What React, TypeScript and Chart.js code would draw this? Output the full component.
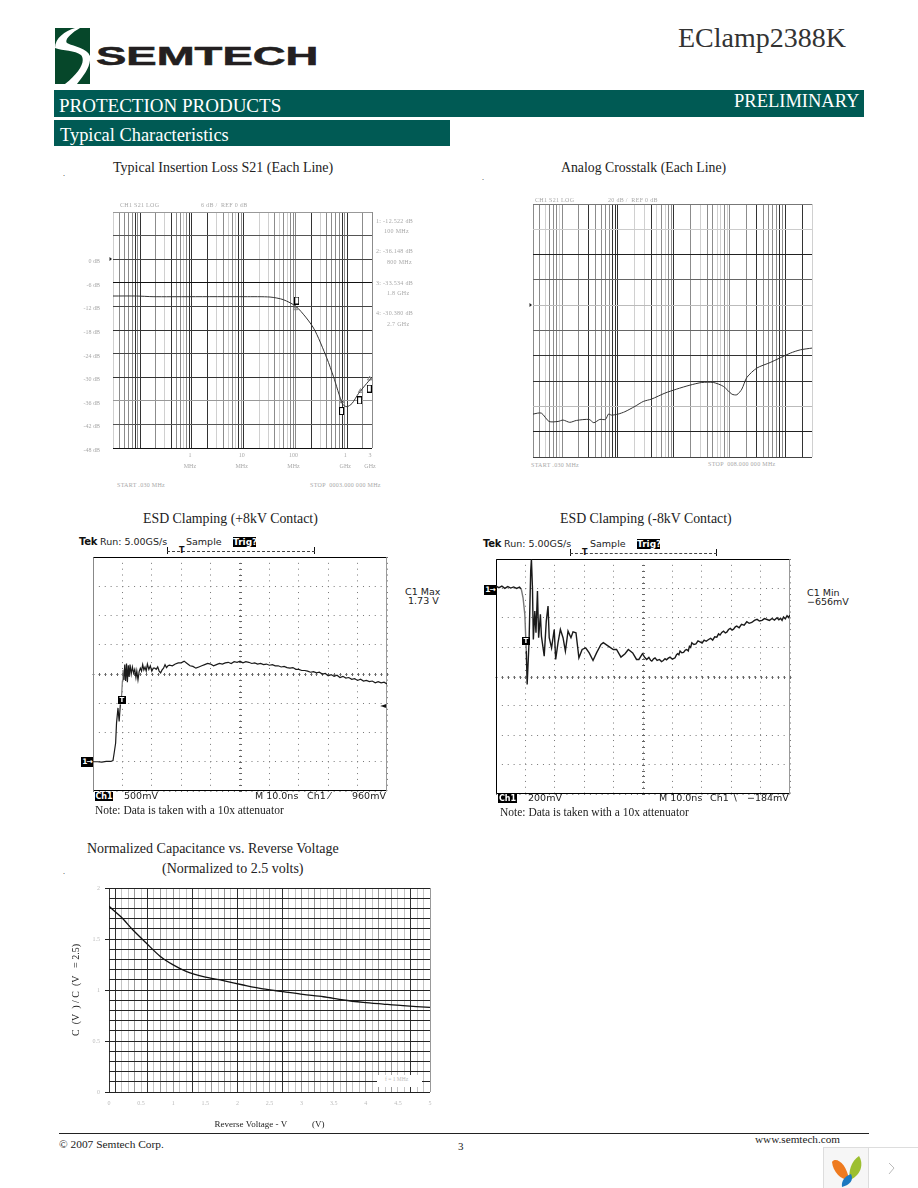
import React, { useEffect, useRef } from "react";
import { Chart, registerables } from "chart.js";

Chart.register(...registerables);

// ---------- Shared log grid (MHz) ----------
const logGrid = [
  0.03, 0.04, 0.05, 0.06, 0.07, 0.08, 0.09, 0.1, 0.2, 0.3, 0.4, 0.5, 0.6, 0.7, 0.8, 0.9,
  1, 2, 3, 4, 5, 6, 7, 8, 9, 10, 20, 30, 40, 50, 60, 70, 80, 90,
  100, 200, 300, 400, 500, 600, 700, 800, 900, 1000, 2000, 3000,
];

// ---------- Insertion loss ----------
const s21Freq = [0.03, 0.085, 0.178, 0.914, 10.6, 32.3, 58.5, 106, 223, 404, 543, 811, 984, 1230, 1656, 2230, 3000];
const s21Db = [-9.36, -9.36, -9.53, -9.53, -9.53, -9.62, -10.3, -12.17, -17.5, -25.2, -29.9, -36.85, -37.5, -36.7, -34.1, -32, -30];
const s21MarkerFreq = [106, 774, 1726, 2660];
const s21MarkerDb = [-10.5, -38.6, -35.9, -32.9];
const s21TriFreq = [100, 800, 1800, 2700];
const s21TriDb = [-12.52, -36.15, -33.53, -30.38];
const s21YLabels: Record<string, string> = {
  "0": "0 dB", "-6": "-6 dB", "-12": "-12 dB", "-18": "-18 dB", "-24": "-24 dB",
  "-30": "-30 dB", "-36": "-36 dB", "-42": "-42 dB", "-48": "-48 dB",
};
const s21XLabels: Record<string, string[]> = {
  "1": ["1", "MHz"], "10": ["10", "MHz"], "100": ["100", "MHz"], "1000": ["1", "GHz"], "3000": ["3", "GHz"],
};
const s21DarkX = [0.08, 0.1, 0.4, 0.9, 1, 2, 8, 10, 200, 800, 1000];
const s21LightX = [0.03, 0.3, 0.7, 3, 5, 7, 20, 30, 50, 70, 300];
const s21YColors: Record<string, string> = {
  "12": "#999", "6": "#555", "0": "#444", "-6": "#111", "-12": "#444", "-18": "#333",
  "-24": "#444", "-30": "#333", "-36": "#999", "-42": "#555", "-48": "#111",
};

// ---------- Crosstalk ----------
const xtFreq = [0.03, 0.0423, 0.0581, 0.0843, 0.1038, 0.1368, 0.18, 0.304, 0.369, 0.473, 0.597, 0.676, 0.766, 1.01, 1.33, 2.01, 2.84, 4.0, 6.95, 11.3, 19.5, 31.7, 51.4, 77.6, 110, 135, 166, 204, 308, 535, 1225, 1849, 3000];
const xtDb = [-86.05, -85.3, -91.9, -91.9, -90.8, -92.6, -91.1, -90.3, -92.9, -90.3, -90.3, -86.05, -86.9, -86.05, -84.2, -80, -76.1, -74.2, -69.5, -66.3, -63.2, -61.1, -61.1, -64.2, -70.3, -70.8, -66.3, -57.1, -49.7, -45.3, -37.9, -35.3, -33.9];
const xtDarkX = [0.3, 0.8, 0.9, 1, 4, 10, 300, 800, 1000, 2000];
const xtLightX = [0.05, 0.09, 2, 3, 5, 7, 30, 60, 70, 90, 3000];
const xtYColors: Record<string, string> = {
  "80": "#777", "60": "#ccc", "40": "#222", "20": "#666", "0": "#bbb", "-20": "#666",
  "-40": "#333", "-60": "#333", "-80": "#bbb", "-100": "#222", "-120": "#444",
};

// ---------- ESD +8kV ----------
const posT = [0, 1.5, 3, 4.5, 6, 6.8, 7.2, 7.7, 8, 8.5, 8.9, 9.3, 9.7, 10, 10.2, 10.5, 10.8, 11.1, 11.4, 11.7, 12, 12.3, 12.6, 13, 13.4, 13.8, 14.2, 14.6, 14.9, 15.3, 15.7, 16.1, 16.5, 16.9, 17.3, 17.7, 18.1, 18.5, 19, 19.5, 20, 20.5, 21, 21.5, 22, 22.5, 23, 23.5, 24, 24.5, 25, 25.5, 26, 27, 28, 29, 30, 31, 32, 33, 34, 35, 36, 37, 38, 39, 40, 41, 42, 43, 44, 45, 46, 47, 48, 49, 50, 51, 52, 53, 54, 55, 56, 57, 58, 59, 60, 61, 62, 63, 64, 65, 66, 67, 68, 69, 70, 71, 72, 73, 74, 75, 76, 77, 78, 79, 80, 81, 82, 83, 84, 85, 86, 87, 88, 89, 90, 91, 92, 93, 94, 95, 96, 97, 98, 99, 100];
const posV = [0, 0, -0.005, 0.005, 0.005, 0.02, 0.15, 0.32, 0.66, 0.92, 0.69, 0.98, 1.1, 1.38, 1.57, 1.4, 1.66, 1.38, 1.68, 1.36, 1.65, 1.45, 1.66, 1.5, 1.62, 1.52, 1.58, 1.44, 1.55, 1.4, 1.54, 1.6, 1.55, 1.66, 1.57, 1.62, 1.55, 1.67, 1.58, 1.64, 1.55, 1.6, 1.6, 1.58, 1.62, 1.55, 1.52, 1.57, 1.6, 1.66, 1.61, 1.64, 1.65, 1.64, 1.67, 1.69, 1.69, 1.72, 1.68, 1.64, 1.63, 1.6, 1.62, 1.64, 1.66, 1.68, 1.67, 1.64, 1.66, 1.68, 1.67, 1.69, 1.7, 1.68, 1.71, 1.7, 1.72, 1.69, 1.71, 1.7, 1.68, 1.69, 1.67, 1.68, 1.66, 1.67, 1.65, 1.66, 1.64, 1.64, 1.62, 1.63, 1.61, 1.6, 1.61, 1.58, 1.58, 1.56, 1.56, 1.55, 1.53, 1.54, 1.52, 1.53, 1.5, 1.51, 1.47, 1.49, 1.46, 1.48, 1.44, 1.46, 1.43, 1.44, 1.41, 1.42, 1.39, 1.41, 1.38, 1.39, 1.37, 1.38, 1.35, 1.37, 1.35, 1.36, 1.33];

// ---------- ESD -8kV ----------
const negT = [0, 1, 2, 3, 4, 5, 6, 7, 8, 8.6, 9.2, 9.8, 10.3, 10.6, 10.9, 11.25, 11.8, 12.05, 12.4, 12.7, 13.2, 13.6, 14.1, 14.5, 15.1, 15.45, 16.4, 17.1, 17.7, 18.1, 18.9, 19.8, 20.3, 21.1, 21.9, 22.8, 23.6, 24.5, 25.5, 26.2, 27.2, 28.2, 29.3, 30.5, 31.7, 33, 34.2, 35.7, 36.5, 38.2, 39.9, 41, 42.5, 43.9, 45, 46.5, 47.8, 48.6, 49.8, 50.7];
const negMv = [15, 5, 15, 0, 12, 2, 10, 0, 8, -5, -64, -177, -427, -655, -518, -359, 118, 198, 5, -348, -155, -302, -18, -336, -177, -325, -461, -223, -120, -336, -405, -280, -484, -370, -280, -336, -427, -291, -336, -296, -302, -473, -416, -405, -439, -491, -439, -382, -370, -393, -416, -416, -468, -445, -416, -439, -484, -484, -445, -473];
const negTail: [number, number][] = [
  [51.25, -484], [52, -470], [52.6, -490], [53, -495], [53.6, -480], [54.1, -473], [54.8, -490], [55.6, -484],
  [56.3, -498], [56.9, -491], [57.5, -478], [58, -486], [58.6, -475], [59.2, -468], [60, -482], [60.9, -473],
  [61.4, -452], [61.8, -445], [62.2, -452], [62.6, -427], [63.2, -438], [63.8, -436], [64.4, -420], [64.9, -416],
  [65.4, -426], [65.8, -395], [66.2, -402], [66.6, -370], [67.3, -382], [68, -378], [68.7, -358], [69.4, -364],
  [70.1, -372], [70.8, -352], [71.5, -360], [72.3, -348], [73, -340], [73.7, -352], [74.4, -330], [75.1, -332],
  [75.7, -310], [76.2, -318], [76.8, -300], [77.4, -291], [78, -303], [78.5, -298], [79.1, -280], [79.7, -273],
  [80.3, -284], [80.8, -278], [81.4, -262], [81.9, -257], [82.7, -268], [83.5, -245], [84.4, -250], [85.3, -227],
  [86.1, -238], [87, -232], [87.9, -218], [88.8, -211], [89.6, -222], [90.5, -218], [91.3, -206], [92.2, -212],
  [93, -218], [93.9, -205], [94.7, -216], [95.6, -200], [96.2, -214], [96.8, -204], [97.3, -218], [97.8, -195],
  [98.4, -208], [99, -186], [99.5, -198], [100, -182],
];

// ---------- Capacitance ----------
const capV = [0, 0.19, 0.37, 0.58, 0.79, 1, 1.21, 1.47, 1.78, 2.09, 2.4, 2.71, 3.02, 3.34, 3.65, 3.96, 4.27, 4.58, 5];
const capRatio = [1.82, 1.715, 1.59, 1.46, 1.334, 1.246, 1.18, 1.131, 1.092, 1.049, 1.01, 0.984, 0.957, 0.934, 0.902, 0.879, 0.862, 0.846, 0.83];
const capDarkX = [0, 0.1, 0.6, 1.3, 2, 2.7, 4.7];
const capMidX = [0.4, 0.8, 1, 1.6, 1.8, 2.3, 2.5, 3, 3.2, 3.5, 3.7, 4, 4.2, 4.4, 5];

const SERIF = '"Liberation Serif", serif';
const SANS = '"DejaVu Sans", sans-serif';
const FAINT = "#a8a8a8";

const pts = (xs: number[], ys: number[]) => xs.map((x, i) => ({ x, y: ys[i] }));

// fixes the plot rectangle inside the canvas
const fixY = (l: number) => (s: any) => {
  s.width = l;
  s.paddingLeft = s.paddingRight = s.paddingTop = s.paddingBottom = 0;
};
const fixX = (b: number) => (s: any) => {
  s.height = b;
  s.paddingLeft = s.paddingRight = s.paddingTop = s.paddingBottom = 0;
};

const baseOptions = (t: number, r: number) => ({
  responsive: false,
  animation: false as const,
  events: [] as string[],
  layout: { padding: { top: t, right: r, left: 0, bottom: 0 } },
  plugins: { legend: { display: false }, tooltip: { enabled: false }, title: { display: false } },
});

const refMarker = {
  id: "refMarker",
  afterDraw(chart: any) {
    const { ctx, scales, chartArea } = chart;
    const y = Math.round(scales.y.getPixelForValue(0));
    ctx.save();
    ctx.fillStyle = "#222";
    ctx.beginPath();
    ctx.moveTo(chartArea.left - 1, y);
    ctx.lineTo(chartArea.left - 3.5, y - 2);
    ctx.lineTo(chartArea.left - 3.5, y + 2);
    ctx.closePath();
    ctx.fill();
    ctx.restore();
  },
};

const boxImage = () => {
  const c = document.createElement("canvas");
  c.width = 5;
  c.height = 8;
  const g = c.getContext("2d")!;
  g.fillStyle = "#fff";
  g.fillRect(0, 0, 5, 8);
  g.strokeStyle = "#000";
  g.lineWidth = 1;
  g.strokeRect(0.5, 0.5, 4, 7);
  return c;
};

const logConfig = (
  xs: number[], ys: number[], extra: any[], yMin: number, yMax: number, yStep: number,
  dark: number[], light: number[], yColors: Record<string, string>,
  l: number, t: number, r: number, b: number, labelled: boolean,
) => ({
  type: "scatter" as const,
  data: {
    datasets: [
      { data: pts(xs, ys), showLine: true, borderColor: "#333", borderWidth: 1, pointRadius: 0, tension: 0.25 },
      ...extra,
    ],
  },
  plugins: [refMarker],
  options: {
    ...baseOptions(t, r),
    scales: {
      x: {
        type: "logarithmic" as const,
        min: 0.03,
        max: 3000,
        afterBuildTicks: (s: any) => { s.ticks = logGrid.map((value) => ({ value })); },
        afterFit: fixX(b),
        grid: {
          drawTicks: false,
          lineWidth: 1,
          color: (c: any) => {
            const v = c.tick?.value;
            return dark.includes(v) ? "#333" : light.includes(v) ? "#d0d0d0" : "#8c8c8c";
          },
        },
        border: { display: false },
        ticks: {
          display: labelled,
          autoSkip: false,
          maxRotation: 0,
          padding: 2,
          labelOffset: -2,
          color: FAINT,
          font: { family: SERIF, size: 6, lineHeight: 1.8 },
          callback: (v: any) => s21XLabels[String(v)] ?? "",
        },
      },
      y: {
        type: "linear" as const,
        min: yMin,
        max: yMax,
        afterFit: fixY(l),
        grid: { drawTicks: false, lineWidth: 1, color: (c: any) => yColors[String(c.tick?.value)] ?? "#555" },
        border: { display: false },
        ticks: {
          display: labelled,
          stepSize: yStep,
          padding: 13,
          labelOffset: 2.5,
          color: FAINT,
          font: { family: SERIF, size: 6 },
          callback: (v: any) => s21YLabels[String(v)] ?? "",
        },
      },
    },
  },
});

const s21Config = () =>
  logConfig(
    s21Freq, s21Db,
    [
      { data: pts(s21TriFreq, s21TriDb), showLine: false, pointStyle: "triangle", pointRadius: 2.5, borderColor: "#888", backgroundColor: "rgba(0,0,0,0)", borderWidth: 1 },
      { data: pts(s21MarkerFreq, s21MarkerDb), showLine: false, pointStyle: boxImage(), pointRadius: 3 },
    ],
    -48, 12, 6, s21DarkX, s21LightX, s21YColors, 53, 12, 12, 30, true,
  );

const xtConfig = () =>
  logConfig(xtFreq, xtDb, [], -120, 80, 20, xtDarkX, xtLightX, xtYColors, 8, 6, 4, 4, false);

const tekPlugin = (centerY: number, leftColor: string, rightColor: string) => ({
  id: "tekGraticule",
  beforeDatasetsDraw(chart: any) {
    const { ctx, chartArea: a, scales } = chart;
    const cx = Math.round(scales.x.getPixelForValue(50)) + 0.5;
    const cy = Math.round(scales.y.getPixelForValue(centerY)) + 0.5;
    const stepX = (a.right - a.left) / 50;
    const stepY = (a.bottom - a.top) / 40;
    ctx.save();
    ctx.strokeStyle = "#666";
    ctx.lineWidth = 1;
    ctx.beginPath();
    for (let i = 0; i <= 50; i++) {
      const x = Math.round(a.left + i * stepX) + 0.5;
      ctx.moveTo(x, cy - 1.5);
      ctx.lineTo(x, cy + 1.5);
      ctx.moveTo(x - 1, cy);
      ctx.lineTo(x + 1, cy);
    }
    for (let j = 0; j <= 40; j++) {
      const y = Math.round(a.top + j * stepY) + 0.5;
      ctx.moveTo(cx - 1.5, y);
      ctx.lineTo(cx + 1.5, y);
    }
    ctx.stroke();
    const L = Math.round(a.left) + 0.5, R = Math.round(a.right) - 0.5;
    const T = Math.round(a.top) + 0.5, B = Math.round(a.bottom) - 0.5;
    ctx.strokeStyle = "#000";
    ctx.beginPath();
    ctx.moveTo(L, T); ctx.lineTo(R, T);
    ctx.moveTo(L, B); ctx.lineTo(R, B);
    ctx.stroke();
    ctx.strokeStyle = leftColor;
    ctx.beginPath(); ctx.moveTo(L, T); ctx.lineTo(L, B); ctx.stroke();
    ctx.strokeStyle = rightColor;
    ctx.beginPath(); ctx.moveTo(R, T); ctx.lineTo(R, B); ctx.stroke();
    ctx.restore();
  },
});

const tekConfig = (
  xs: number[], ys: number[], yMin: number, yMax: number, yStep: number, centerY: number,
  width: number, greyFrom: number, greyTo: number, l: number, t: number, r: number, b: number, leftC: string, rightC: string,
) => ({
  type: "scatter" as const,
  data: {
    datasets: [
      {
        data: pts(xs, ys),
        showLine: true,
        borderColor: "#1a1a1a",
        borderWidth: width,
        pointRadius: 0,
        segment: { borderColor: (c: any) => (c.p0.parsed.x >= greyFrom && c.p0.parsed.x < greyTo ? "#777" : undefined) },
      },
    ],
  },
  plugins: [tekPlugin(centerY, leftC, rightC)],
  options: {
    ...baseOptions(t, r),
    scales: {
      x: {
        type: "linear" as const,
        min: 0,
        max: 100,
        afterFit: fixX(b),
        grid: { drawTicks: false, color: "#777" },
        border: { display: false, dash: [1, 4.84] },
        ticks: { display: false, stepSize: 10 },
      },
      y: {
        type: "linear" as const,
        min: yMin,
        max: yMax,
        afterFit: fixY(l),
        grid: { drawTicks: false, color: "#777" },
        border: { display: false, dash: [1, 4.87] },
        ticks: { display: false, stepSize: yStep },
      },
    },
  },
});

const posConfig = () => tekConfig(posT, posV, -0.5, 3.5, 0.5, 1.5, 1.2, 9.3, 10.4, 3, 2, 3, 3, "#888", "#999");
const negConfig = () =>
  tekConfig([...negT, ...negTail.map((p) => p[0])], [...negMv, ...negTail.map((p) => p[1])], -1400, 200, 200, -600, 1.4, 8.6, 10, 3, 2, 3, 3, "#000", "#999");

const near = (a: number, b: number) => Math.abs(a - b) < 1e-6;
const capConfig = () => ({
  type: "scatter" as const,
  data: {
    datasets: [
      { data: pts(capV, capRatio), showLine: true, borderColor: "#111", borderWidth: 1.3, pointRadius: 0, tension: 0.3 },
    ],
  },
  options: {
    ...baseOptions(4, 4),
    scales: {
      x: {
        type: "linear" as const,
        min: 0,
        max: 5,
        afterFit: fixX(38),
        grid: {
          drawTicks: false,
          color: (c: any) => {
            const v = c.tick?.value ?? -1;
            if (capDarkX.some((d) => near(d, v))) return "#333";
            if (capMidX.some((d) => near(d, v))) return "#999";
            return "#c4c4c4";
          },
        },
        border: { display: false },
        title: { display: true, text: "Reverse Voltage - V           (V)", color: "#222", padding: 0, font: { family: SERIF, size: 9, lineHeight: 1.2 } },
        ticks: {
          stepSize: 0.1,
          autoSkip: false,
          maxRotation: 0,
          padding: 8,
          color: "#bbb",
          font: { family: SERIF, size: 6 },
          callback: (v: any) => (near(v * 2, Math.round(v * 2)) ? String(Number(Number(v).toFixed(1))) : ""),
        },
      },
      y: {
        type: "linear" as const,
        min: 0,
        max: 2,
        afterFit: fixY(49),
        grid: {
          tickLength: 4,
          color: "#222",
          tickColor: (c: any) => {
            const v = c.tick?.value ?? -1;
            return near(v * 2, Math.round(v * 2)) ? "#222" : "rgba(0,0,0,0)";
          },
        },
        border: { display: false },
        title: { display: true, text: "C  (V  ) / C  (V   = 2.5)", color: "#222", padding: { top: 10, bottom: 0 }, font: { family: SERIF, size: 10, lineHeight: 1.2 } },
        ticks: {
          stepSize: 0.1,
          autoSkip: false,
          padding: 5,
          color: "#bbb",
          font: { family: SERIF, size: 6 },
          callback: (v: any) => (near(v * 2, Math.round(v * 2)) ? String(Number(Number(v).toFixed(1))) : ""),
        },
      },
    },
  },
});

function ChartBox({ left, top, width, height, build }: { left: number; top: number; width: number; height: number; build: () => any }) {
  const ref = useRef<HTMLCanvasElement>(null);
  useEffect(() => {
    const chart = new Chart(ref.current!, build());
    return () => chart.destroy();
  }, []);
  return <canvas ref={ref} width={width} height={height} style={{ position: "absolute", left, top, width, height, display: "block" }} />;
}

function T({ x, y, s, c = "#111", f = SERIF, w, ls, children }: any) {
  return (
    <div style={{ position: "absolute", left: x, top: y, transform: "translateY(-50%)", fontSize: s, color: c, fontFamily: f, fontWeight: w ?? "normal", letterSpacing: ls, whiteSpace: "pre", lineHeight: 1 }}>
      {children}
    </div>
  );
}

function Inv({ x, y, bw, bh, s = 8, ls, children }: any) {
  return (
    <div style={{ position: "absolute", left: x, top: y - bh / 2, width: bw, height: bh, background: "#000", color: "#fff", fontFamily: SANS, fontSize: s, fontWeight: "bold", letterSpacing: ls, lineHeight: `${bh}px`, textAlign: "center", whiteSpace: "pre", overflow: "hidden" }}>
      {children}
    </div>
  );
}

function TekHeader({ x0, y, bx0, bx1, by }: any) {
  return (
    <>
      <T x={x0} y={y} s={10} f={SANS} w="bold" ls={-0.3}>Tek</T>
      <T x={x0 + 21} y={y} s={9.5} f={SANS} c="#222">Run: 5.00GS/s</T>
      <T x={x0 + 107} y={y} s={9.5} f={SANS} c="#222">Sample</T>
      <Inv x={x0 + 154} y={y} bw={23} bh={10} s={9}>Trig?</Inv>
      <div style={{ position: "absolute", left: bx0, top: by - 4, width: bx1 - bx0, height: 7, borderLeft: "1px solid #111", borderRight: "1px solid #111", boxSizing: "border-box" }} />
      <div style={{ position: "absolute", left: bx0, top: by, width: bx1 - bx0, height: 0, borderTop: "1px dashed #444" }} />
      <T x={bx0 + 12} y={by} s={8} f={SANS} w="bold">T</T>
    </>
  );
}

const labelProps = { s: 6, c: FAINT, ls: 0.3 };

export default function App() {
  return (
    <div style={{ position: "absolute", left: 0, top: 0, width: 918, height: 1188, overflow: "hidden", background: "#fff" }}>
      {/* Header */}
      <svg style={{ position: "absolute", left: 55, top: 28 }} width={35} height={56} viewBox="0 0 35 56">
        <rect width="35" height="56" fill="#06472a" />
        <path d="M20,0 C10,3 0,10 0,20 C8,23 20,22 26,27 C31,33 25,44 10,56 L22,56 C30,46 36,38 35,28 C32,20 20,19 12,15 C9,12 16,5 25,0 Z" fill="#fff" />
      </svg>
      <div style={{ position: "absolute", left: 96, top: 42, fontFamily: '"Liberation Sans", sans-serif', fontWeight: "bold", fontSize: 25, lineHeight: "29px", color: "#231f20", transform: "scaleX(1.82)", transformOrigin: "left center", whiteSpace: "pre", WebkitTextStroke: "0.5px #231f20" }}>SEMTECH</div>
      <T x={678} y={38} s={28} c="#333">EClamp2388K</T>
      <div style={{ position: "absolute", left: 54, top: 90, width: 810, height: 27, background: "#005a54" }} />
      <div style={{ position: "absolute", left: 54, top: 120, width: 396, height: 26, background: "#005a54" }} />
      <T x={59} y={104.5} s={19} c="#fff">PROTECTION PRODUCTS</T>
      <T x={734} y={101} s={18.5} c="#fff">PRELIMINARY</T>
      <T x={60} y={134.5} s={18.4} c="#fff">Typical Characteristics</T>

      {/* Titles */}
      <T x={113} y={168} s={14} c="#222">Typical Insertion Loss S21 (Each Line)</T>
      <T x={561} y={168} s={13.8} c="#222">Analog Crosstalk (Each Line)</T>
      <T x={143} y={519} s={13.85} c="#222">ESD Clamping (+8kV Contact)</T>
      <T x={560} y={519} s={13.85} c="#222">ESD Clamping (-8kV Contact)</T>
      <T x={87} y={849} s={14} c="#222">Normalized Capacitance vs. Reverse Voltage</T>
      <T x={162} y={869} s={14} c="#222">(Normalized to 2.5 volts)</T>
      <T x={63} y={174} s={8}>.</T>
      <T x={482} y={178} s={8}>.</T>
      <T x={63} y={872} s={8}>.</T>

      {/* Charts */}
      <ChartBox left={60} top={200} width={324} height={278} build={s21Config} />
      <ChartBox left={525} top={198} width={291} height={263} build={xtConfig} />
      <ChartBox left={90} top={555} width={300} height={239} build={posConfig} />
      <ChartBox left={493} top={557} width={300} height={240} build={negConfig} />
      <ChartBox left={60} top={884} width={374} height={246} build={capConfig} />

      {/* S21 readouts */}
      <T x={120} y={205} {...labelProps}>CH1 S21 LOG</T>
      <T x={201} y={205} {...labelProps}>6 dB /  REF 0 dB</T>
      <T x={376} y={221} {...labelProps}>1: -12.522 dB</T>
      <T x={384} y={231} {...labelProps}>100 MHz</T>
      <T x={376} y={251} {...labelProps}>2: -36.148 dB</T>
      <T x={387} y={262} {...labelProps}>800 MHz</T>
      <T x={376} y={283} {...labelProps}>3: -33.534 dB</T>
      <T x={387} y={293} {...labelProps}>1.8 GHz</T>
      <T x={376} y={313} {...labelProps}>4: -30.380 dB</T>
      <T x={387} y={324} {...labelProps}>2.7 GHz</T>
      <T x={117} y={485} {...labelProps}>START .030 MHz</T>
      <T x={310} y={485} {...labelProps}>STOP  0003.000 000 MHz</T>

      {/* Crosstalk readouts */}
      <T x={535} y={200} {...labelProps}>CH1 S21 LOG</T>
      <T x={608} y={200} {...labelProps}>20 dB /  REF 0 dB</T>
      <T x={531} y={465} {...labelProps}>START .030 MHz</T>
      <T x={708} y={464} {...labelProps}>STOP  008.000 000 MHz</T>

      {/* ESD + */}
      <TekHeader x0={79} y={541.5} bx0={167} bx1={315} by={551} />
      <Inv x={81} y={762} bw={12} bh={10} s={7.5} ls={-1}>1→</Inv>
      <Inv x={118} y={700} bw={8} bh={8} s={7}>T</Inv>
      <T x={380} y={705.5} s={8} f={SANS}>◄</T>
      <T x={405} y={592} s={9.5} f={SANS} c="#222">C1 Max</T>
      <T x={405} y={601} s={9.5} f={SANS} c="#222"> 1.73 V</T>
      <Inv x={95} y={796} bw={18} bh={9} s={8}>Ch1</Inv>
      <T x={124} y={796} s={9.5} f={SANS} c="#222">500mV</T>
      <T x={255} y={796} s={9.5} f={SANS} c="#222">M 10.0ns</T>
      <T x={307} y={796} s={9.5} f={SANS} c="#222">Ch1 ⁄</T>
      <T x={352} y={796} s={9.5} f={SANS} c="#222">960mV</T>
      <T x={95} y={811} s={11.5} c="#222">Note: Data is taken with a 10x attenuator</T>

      {/* ESD - */}
      <TekHeader x0={483} y={543.5} bx0={570} bx1={717} by={553} />
      <Inv x={484} y={589.5} bw={12} bh={10} s={7.5} ls={-1}>1→</Inv>
      <Inv x={522} y={641} bw={8} bh={8} s={7}>T</Inv>
      <T x={807} y={593} s={9.5} f={SANS} c="#222">C1 Min</T>
      <T x={807} y={602} s={9.5} f={SANS} c="#222">−656mV</T>
      <Inv x={498} y={798} bw={19} bh={9} s={8}>Ch1</Inv>
      <T x={528} y={798} s={9.5} f={SANS} c="#222">200mV</T>
      <T x={659} y={798} s={9.5} f={SANS} c="#222">M 10.0ns</T>
      <T x={710} y={798} s={9.5} f={SANS} c="#222">Ch1 ∖</T>
      <T x={747} y={798} s={9.5} f={SANS} c="#222">−184mV</T>
      <T x={500} y={813} s={11.5} c="#222">Note: Data is taken with a 10x attenuator</T>

      {/* Capacitance legend box */}
      <div style={{ position: "absolute", left: 377, top: 1075, width: 45, height: 12, background: "#fff" }} />
      <T x={385} y={1080} s={5.5} c="#bbb">f = 1 MHz</T>

      {/* Footer */}
      <div style={{ position: "absolute", left: 59, top: 1133, width: 810, height: 1, background: "#222" }} />
      <T x={59} y={1145} s={11.4} c="#222">© 2007 Semtech Corp.</T>
      <T x={458} y={1146} s={11} c="#222">3</T>
      <T x={755} y={1140} s={11.2} c="#222">www.semtech.com</T>

      {/* Corner widget */}
      <svg style={{ position: "absolute", left: 823, top: 1147 }} width={95} height={41} viewBox="0 0 95 41">
        <rect x="0.5" y="0.5" width="45" height="41" fill="#f6f6f6" stroke="#ddd" />
        <rect x="45.5" y="0.5" width="50" height="41" fill="#fff" stroke="#ddd" />
        <path d="M9,15 C13,9 24,17 26,33 C18,33 10,25 9,15 Z" fill="#ee7a1f" />
        <path d="M36,9 C40,15 40,27 27,33 C25,25 28,14 36,9 Z" fill="#9cbf2f" />
        <path d="M28,27 C31,33 27,38 19,40 C18,34 22,29 28,27 Z" fill="#1c78c0" />
        <path d="M66,16 L71,21 L66,27" fill="none" stroke="#bbb" strokeWidth="1" />
      </svg>
    </div>
  );
}
